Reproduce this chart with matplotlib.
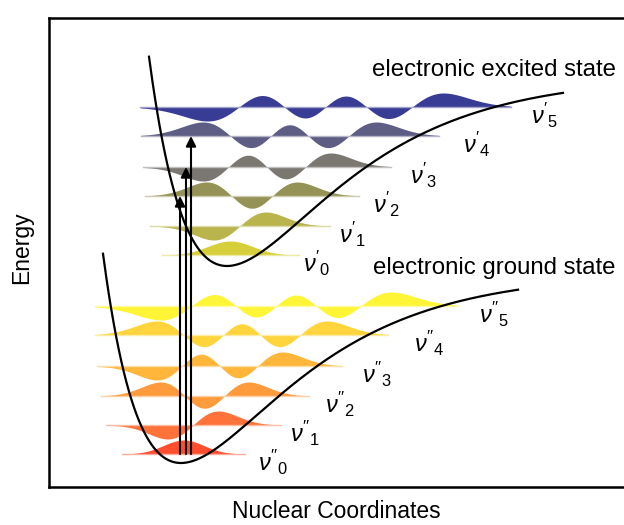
import numpy as np
import matplotlib
matplotlib.use("Agg")
import matplotlib.pyplot as plt
from numpy.polynomial.hermite import hermval

plt.rcParams['font.family'] = ['Liberation Sans', 'DejaVu Sans']
plt.rcParams['mathtext.fontset'] = 'custom'
plt.rcParams['mathtext.rm'] = 'Liberation Sans'
plt.rcParams['mathtext.it'] = 'Liberation Sans:italic'

# Morse potentials (arbitrary units): well depth, steepness, equilibrium r, minimum energy
morse_De = 3.8
morse_a = 0.46
ground_re = 2.64
ground_Emin = 0.48
ground_r_range = [1.08, 9.38]
excited_re = 3.56
excited_Emin = 4.42
excited_r_range = [2.00, 10.28]

# vibrational levels
ground_levels = [0.66, 1.24, 1.82, 2.42, 3.04, 3.62]
excited_levels = [4.64, 5.22, 5.82, 6.40, 7.02, 7.60]
ground_colors = ['#ff4422', '#ff6a2e', '#ff9632', '#ffb230', '#ffd232', '#fff52c']
excited_colors = ['#d4cd30', '#b5b042', '#8e8c4c', '#74716a', '#55557e', '#2e318e']
ground_labels = [r"$\nu''_%d$" % v for v in range(6)]
excited_labels = [r"$\nu'_%d$" % v for v in range(6)]

# vertical transitions from v''=0 to v'=2,3,4
transition_r = [2.62, 2.74, 2.84]
transition_to = [2, 3, 4]

# label placement
ground_label_x = [4.48, 5.12, 5.82, 6.56, 7.60, 8.90]
excited_label_x = [5.36, 6.08, 6.76, 7.50, 8.56, 9.92]
label_drop = 0.16
wf_amp = 0.28
wf_narrow = 0.84


def morse(r, re, emin):
    return emin + morse_De * (1 - np.exp(-morse_a * (r - re))) ** 2


def turning_points(E, re, emin):
    s = np.sqrt((E - emin) / morse_De)
    r_right = re - np.log(1 - s) / morse_a
    r_left = re - np.log(1 + s) / morse_a
    return r_left, r_right


def lighten(c, f=0.55):
    rgb = np.array(matplotlib.colors.to_rgb(c))
    return tuple(rgb + (1 - rgb) * f)


fig = plt.figure(figsize=(6.24, 5.25), dpi=100)
ax = fig.add_axes([49 / 624, 38 / 525, 591 / 624, 469 / 525])
ax.set_xlim(0, 11.82)
ax.set_ylim(0, 9.38)

for levels, colors, re, emin in [(ground_levels, ground_colors, ground_re, ground_Emin),
                                 (excited_levels, excited_colors, excited_re, excited_Emin)]:
    for v, (E, col) in enumerate(zip(levels, colors)):
        rl, rr = turning_points(E, re, emin)
        c = (rl + rr) / 2
        xi_t = np.sqrt(2 * v + 1)
        w = (rr - rl) / (2 * xi_t) * wf_narrow
        xi_max = 0.55 * xi_t + 2.5
        xi = np.linspace(-xi_max, xi_max, 600)
        coef = np.zeros(v + 1)
        coef[v] = 1
        psi = hermval(xi, coef) * np.exp(-xi ** 2 / 2)
        psi = psi / np.abs(psi).max()
        r = c + w * xi
        ax.fill_between(r, E, E + wf_amp * psi, color=col, lw=0, alpha=0.95, zorder=2)
        ax.plot(r, np.full_like(r, E), color=lighten(col), lw=1.0, zorder=2.5)

for re, emin, rng in [(ground_re, ground_Emin, ground_r_range),
                      (excited_re, excited_Emin, excited_r_range)]:
    r = np.linspace(rng[0], rng[1], 500)
    ax.plot(r, morse(r, re, emin), color='black', lw=1.6, zorder=3)

for x, v in zip(transition_r, transition_to):
    ax.annotate('', xy=(x, excited_levels[v]), xytext=(x, ground_levels[0]),
                arrowprops=dict(arrowstyle='-|>', color='black', lw=1.5,
                                mutation_scale=15, shrinkA=0, shrinkB=0),
                zorder=4)

for x, E, lab in zip(ground_label_x, ground_levels, ground_labels):
    ax.text(x, E - label_drop, lab, fontsize=17, ha='center', va='center')
for x, E, lab in zip(excited_label_x, excited_levels, excited_labels):
    ax.text(x, E - label_drop, lab, fontsize=17, ha='center', va='center')

ax.text(6.46, 8.34, 'electronic excited state', fontsize=17.3, ha='left', va='center')
ax.text(6.48, 4.38, 'electronic ground state', fontsize=17.3, ha='left', va='center')

fig.text(336 / 624, 13 / 525, 'Nuclear Coordinates', fontsize=16.5, ha='center', va='center')
fig.text(22 / 624, 1 - 248 / 525, 'Energy', fontsize=16.5, ha='center', va='center', rotation=90)

ax.set_xticks([])
ax.set_yticks([])
for s in ['top', 'left', 'bottom']:
    ax.spines[s].set_linewidth(1.8)
ax.spines['right'].set_visible(False)

fig.savefig('out.png', dpi=100)
